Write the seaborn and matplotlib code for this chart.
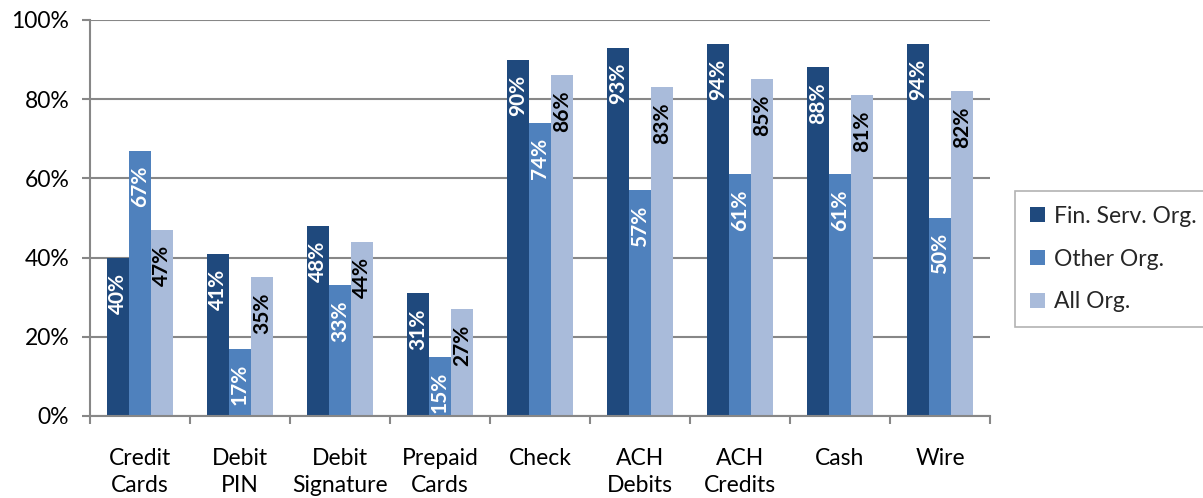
import matplotlib
matplotlib.use("Agg")
import matplotlib.pyplot as plt
import seaborn as sns
import pandas as pd
import numpy as np

categories = ["Credit\nCards", "Debit\nPIN", "Debit\nSignature", "Prepaid\nCards",
              "Check", "ACH\nDebits", "ACH\nCredits", "Cash", "Wire"]
series_names = ["Fin. Serv. Org.", "Other Org.", "All Org."]
fin_serv = [40, 41, 48, 31, 90, 93, 94, 88, 94]
other_org = [67, 17, 33, 15, 74, 57, 61, 61, 50]
all_org = [47, 35, 44, 27, 86, 83, 85, 81, 82]
y_ticks = [0, 20, 40, 60, 80, 100]

colors = ["#1F497D", "#4F81BD", "#A9BBDA"]
label_colors = ["white", "white", "black"]

df = pd.DataFrame({
    "category": categories * 3,
    "series": [s for s in series_names for _ in categories],
    "value": fin_serv + other_org + all_org,
})

sns.set_theme(style="white")
plt.rcParams["font.family"] = ["Lato", "DejaVu Sans"]

fig = plt.figure(figsize=(12.03, 4.98), dpi=100)
ax = fig.add_axes([0.0748, 0.1647, 0.823 - 0.0748, 0.96 - 0.1647])

sns.barplot(data=df, x="category", y="value", hue="series", order=categories,
            hue_order=series_names, palette=colors, width=0.66, gap=0,
            saturation=1, linewidth=0, ax=ax, legend=True)

# Value labels, rotated, inside the top of each bar
for container, col in zip(ax.containers, label_colors):
    for bar, val in zip(container, container.datavalues):
        ax.annotate(f"{val:.0f}%", (bar.get_x() + bar.get_width() / 2, bar.get_height()),
                    xytext=(0, -11), textcoords="offset points", rotation=90,
                    ha="center", va="top", color=col, fontsize=15, fontweight="bold")

grid_col = "#878787"
ax.set_ylim(0, 100)
ax.set_xlim(-0.5, len(categories) - 0.5)
ax.set_yticks(y_ticks)
ax.set_yticklabels([f"{v}%" for v in y_ticks], fontsize=16.5, color="black")
ax.yaxis.grid(True, color=grid_col, linewidth=1.5)
ax.set_axisbelow(True)
ax.tick_params(axis="y", length=6, width=1.5, color=grid_col, pad=9, left=True)

# tick marks sit between categories; labels sit under the category centres
ax.set_xticks(np.arange(len(categories) + 1) - 0.5)
ax.set_xticklabels([])
ax.tick_params(axis="x", which="major", length=5.5, width=1.5, color=grid_col, bottom=True)
ax.set_xticks(np.arange(len(categories)), minor=True)
ax.set_xticklabels(categories, minor=True, fontsize=16.5, color="black", linespacing=1.38)
ax.tick_params(axis="x", which="minor", length=0, pad=23)

ax.set_xlabel("")
ax.set_ylabel("")
for side in ["top", "right"]:
    ax.spines[side].set_visible(False)
for side in ["left", "bottom"]:
    ax.spines[side].set_color(grid_col)
    ax.spines[side].set_linewidth(1.5)

handles, labels = ax.get_legend_handles_labels()
ax.legend(handles, labels, loc="upper left", bbox_to_anchor=(0.8437, 0.6165),
          bbox_transform=fig.transFigure, fontsize=16.5, frameon=True, fancybox=False,
          edgecolor="#A0A0A0", handlelength=0.65, handleheight=0.65,
          handletextpad=0.4, labelspacing=0.95, borderpad=0.65, borderaxespad=0)
ax.get_legend().get_frame().set_linewidth(1.2)

fig.savefig("out.png", dpi=100)
